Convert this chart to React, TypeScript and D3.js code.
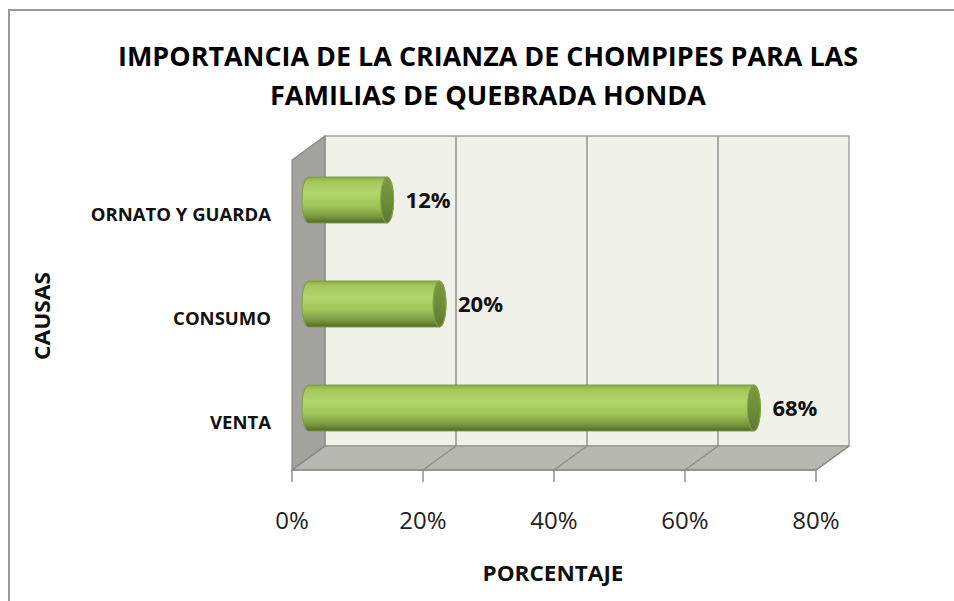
import React from "react";
import * as d3 from "d3";

const categories = ["ORNATO Y GUARDA", "CONSUMO", "VENTA"];
const values = [12, 20, 68];
const tickValues = [0, 20, 40, 60, 80];
const titleLines = ["IMPORTANCIA DE LA CRIANZA DE CHOMPIPES PARA LAS", "FAMILIAS DE QUEBRADA HONDA"];
const xTitle = "PORCENTAJE";
const yTitle = "CAUSAS";

const W = 954;
const H = 601;
const FONT = "'Open Sans', 'Noto Sans', sans-serif";

export default function App() {
  // front plane scale
  const xF = d3.scaleLinear().domain([0, 80]).range([292, 816]);
  const DX = 33; // depth offset x
  const DY = -24; // depth offset y
  const floorY = 470;
  const backTop = 136;
  const backBottom = floorY + DY;
  const yC = d3.scalePoint<string>().domain(categories).range([148, 460]).padding(0.5);
  const barH = 46;
  const rx = 6.5;
  const mid = DX / 2;

  const barPath = (x0: number, x1: number, yc: number) => {
    const yt = yc - barH / 2;
    const yb = yc + barH / 2;
    const ry = barH / 2;
    return `M${x0},${yt} L${x1},${yt} A${rx},${ry} 0 0 1 ${x1},${yb} L${x0},${yb} A${rx},${ry} 0 0 1 ${x0},${yt} Z`;
  };

  return (
    <svg
      width={W}
      height={H}
      style={{ position: "absolute", left: 0, top: 0, background: "#fff" }}
      fontFamily={FONT}
    >
      <defs>
        <linearGradient id="cyl" x1="0" y1="0" x2="0" y2="1">
          <stop offset="0" stopColor="#88aa45" />
          <stop offset="0.1" stopColor="#a3c75b" />
          <stop offset="0.35" stopColor="#b2d56c" />
          <stop offset="0.65" stopColor="#9fc257" />
          <stop offset="0.88" stopColor="#73923a" />
          <stop offset="1" stopColor="#4e6925" />
        </linearGradient>
        <linearGradient id="cap" x1="0" y1="0" x2="0" y2="1">
          <stop offset="0" stopColor="#7a9a42" />
          <stop offset="0.5" stopColor="#6f8d3b" />
          <stop offset="1" stopColor="#5c7830" />
        </linearGradient>
      </defs>
      <rect x={0} y={0} width={W} height={H} fill="#fff" />
      {/* outer border */}
      <path d={`M9,${H + 5} L9,10 L${W + 5},10`} fill="none" stroke="#9a9a9a" strokeWidth={2} />

      {/* title */}
      {titleLines.map((t, i) => (
        <text
          key={i}
          x={488}
          y={66 + i * 39}
          textAnchor="middle"
          fontWeight="bold"
          fontSize={26}
          fill="#000"
          textLength={i === 0 ? 740 : 436}
          lengthAdjust="spacingAndGlyphs"
        >
          {t}
        </text>
      ))}

      {/* back wall */}
      <rect
        x={xF(0) + DX}
        y={backTop}
        width={xF(80) - xF(0)}
        height={backBottom - backTop}
        fill="#f0f2ea"
        stroke="#8f8f8f"
        strokeWidth={1.2}
      />
      {/* side wall */}
      <path
        d={`M${xF(0)},${backTop - DY} L${xF(0) + DX},${backTop} L${xF(0) + DX},${backBottom} L${xF(0)},${floorY} Z`}
        fill="#a2a39e"
        stroke="#8a8a8a"
        strokeWidth={1.2}
      />
      {/* floor */}
      <path
        d={`M${xF(0) + DX},${backBottom} L${xF(80) + DX},${backBottom} L${xF(80)},${floorY} L${xF(0)},${floorY} Z`}
        fill="#b7b8b2"
        stroke="#8a8a8a"
        strokeWidth={1.2}
      />
      {/* gridlines */}
      {tickValues.map((t) => (
        <g key={t} stroke="#8c8c8c" strokeWidth={1.4}>
          {t > 0 && t < 80 && (
            <line x1={xF(t) + DX} x2={xF(t) + DX} y1={backTop} y2={backBottom} />
          )}
          <line x1={xF(t) + DX} y1={backBottom} x2={xF(t)} y2={floorY} />
          <line x1={xF(t)} x2={xF(t)} y1={floorY} y2={floorY + 12} stroke="#8a8a8a" />
        </g>
      ))}
      <line x1={xF(0)} x2={xF(80)} y1={floorY} y2={floorY} stroke="#8a8a8a" strokeWidth={1.6} />

      {/* bars */}
      {categories.map((c, i) => {
        const yc = yC(c) as number;
        const x0 = xF(0) + mid;
        const x1 = xF(values[i]) + mid;
        return (
          <g key={c}>
            <path d={barPath(x0, x1, yc)} fill="url(#cyl)" stroke="#7f9f45" strokeWidth={1} />
            <ellipse cx={x1} cy={yc} rx={rx} ry={barH / 2} fill="url(#cap)" stroke="#86a64a" strokeWidth={1} />
            <text
              x={x1 + rx + 12}
              y={yc + 8}
              fontWeight="bold"
              fontSize={22}
              fill="#111"
            >
              {values[i]}%
            </text>
          </g>
        );
      })}

      {/* category labels */}
      {categories.map((c) => (
        <text
          key={c}
          x={271}
          y={(yC(c) as number) + 21}
          textAnchor="end"
          fontWeight="bold"
          fontSize={18.5}
          fill="#111"
        >
          {c}
        </text>
      ))}

      {/* tick labels */}
      {tickValues.map((t) => (
        <text key={t} x={xF(t)} y={529} textAnchor="middle" fontSize={24} fill="#222">
          {t}%
        </text>
      ))}

      {/* axis titles */}
      <text
        x={553}
        y={581}
        textAnchor="middle"
        fontWeight="bold"
        fontSize={22}
        fill="#111"
        textLength={141}
        lengthAdjust="spacingAndGlyphs"
      >
        {xTitle}
      </text>
      <text
        transform={`translate(50,316) rotate(-90)`}
        textAnchor="middle"
        fontWeight="bold"
        fontSize={22}
        fill="#111"
        textLength={88}
        lengthAdjust="spacingAndGlyphs"
      >
        {yTitle}
      </text>
    </svg>
  );
}
